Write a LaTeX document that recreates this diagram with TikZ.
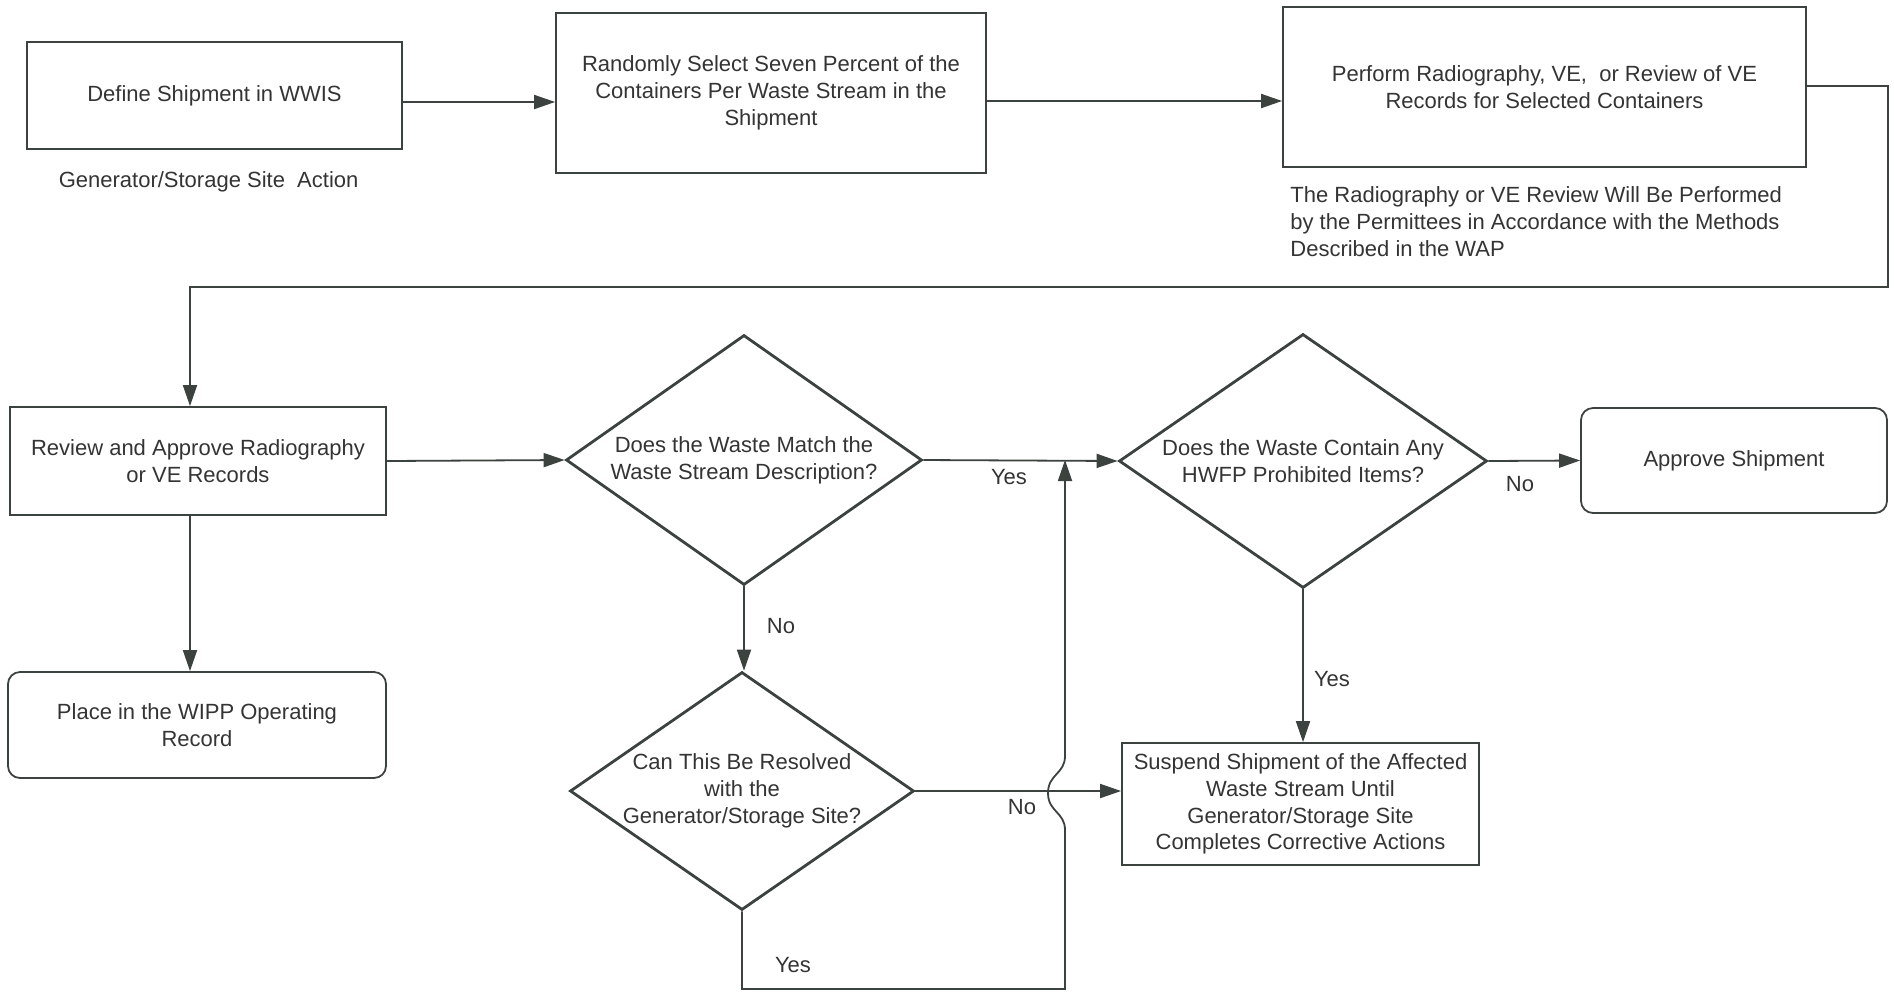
\documentclass[tikz,border=0pt]{standalone}
\usepackage{fontspec}
\setmainfont{Liberation Sans}
\usetikzlibrary{arrows.meta,shapes.geometric}
\definecolor{ln}{HTML}{3C423E}
\definecolor{tx}{HTML}{333533}
\begin{document}
\begin{tikzpicture}[x=0.5pt,y=-0.5pt,
  every node/.style={font=\fontsize{11}{13.4}\selectfont, text=tx},
  box/.style={draw=ln, line width=0.9pt, inner sep=0pt, align=center},
  rbox/.style={box, rounded corners=6pt},
  dia/.style={draw=ln, line width=1.4pt, diamond, inner sep=0pt},
  lbl/.style={inner sep=0pt},
  arr/.style={draw=ln, line width=0.9pt, -{Triangle[length=10.5pt,width=7pt]}}
]
\fill[white] (0,0) rectangle (1894,992);
\useasboundingbox (0,0) rectangle (1894,992);

% boxes
\node[box, minimum width=187.5pt, minimum height=53.5pt] (def) at (214.5,95.5) {Define Shipment in WWIS};
\node[lbl] (gen) at (208.6,182) {Generator/Storage Site\ \ Action};
\node[box, minimum width=215pt, minimum height=80pt] (sel) at (771,93) {Randomly Select Seven Percent of the\\Containers Per Waste Stream in the\\Shipment};
\node[box, minimum width=261.5pt, minimum height=80pt] (perf) at (1544.5,87) {Perform Radiography, VE,\ \ or Review of VE\\Records for Selected Containers};
\node[lbl, align=left, anchor=west] (note) at (1290,221.5) {The Radiography or VE Review Will Be Performed\\by the Permittees in Accordance with the Methods\\Described in the WAP};
\node[box, minimum width=188pt, minimum height=54pt] (rev) at (198,461) {Review and Approve Radiography\\or VE Records};
\node[rbox, minimum width=189pt, minimum height=53pt] (place) at (197,725) {Place in the WIPP Operating\\Record};

\node[dia, minimum width=178pt, minimum height=125pt] (d1) at (744,460) {};
\node[lbl, align=center] (t1) at (744,460) {Does the Waste Match the\\Waste Stream Description?};
\node[dia, minimum width=184pt, minimum height=127pt] (d3) at (1303,461) {};
\node[lbl, align=center] (t3) at (1303,461) {Does the Waste Contain Any\\HWFP Prohibited Items?};
\node[rbox, minimum width=153pt, minimum height=52.5pt] (appr) at (1734,460.5) {Approve Shipment};
\node[dia, minimum width=172pt, minimum height=119pt] (d2) at (742,791) {};
\node[lbl, align=center] (t2) at (742,791) {Can This Be Resolved\\with the\\Generator/Storage Site?};
\node[box, minimum width=178.5pt, minimum height=61pt] (susp) at (1300.5,804) {Suspend Shipment of the Affected\\Waste Stream Until\\Generator/Storage Site\\Completes Corrective Actions};

% helper coordinates
\coordinate (c1) at (1888,86);
\coordinate (c2) at (1888,287);
\coordinate (j) at (1065,460);
\coordinate (b1) at (742,989);
\coordinate (b2) at (1065,989);
\coordinate (h1) at (1065,830);
\coordinate (h2) at (1048,793);
\coordinate (h3) at (1065,756);
\coordinate (rn) at ([xshift=-4pt]rev.north);
\coordinate (rs) at ([xshift=-4pt]rev.south);

% connectors
\draw[arr] (def.east |- 0,102) -- (sel.west |- 0,102);
\draw[arr] (sel.east |- 0,101) -- (perf.west |- 0,101);
\draw[arr] (perf.east |- c1) -- (c1) -- (c2) -| (rn);
\draw[arr] (rev.east) -- (d1.west);
\draw[arr] (rs) -- (rs |- place.north);
\draw[arr] (d1.east) -- (d3.west);
\draw[arr] (d1.south) -- (d1.south |- d2.north);
\draw[arr] (d3.east) -- (appr.west);
\draw[arr] (d3.south) -- (d3.south |- susp.north);
\draw[arr] (d2.east) -- (d2.east -| susp.west);
\draw[arr] (d2.south) -- (b1) -- (b2) -- (h1) .. controls (1065,812) and (1048,812) .. (h2) .. controls (1048,774) and (1065,774) .. (h3) -- (j);

% labels
\node[lbl] (ly1) at (1009,477) {Yes};
\node[lbl] (ln1) at (781,626) {No};
\node[lbl] (ln3) at (1520,484) {No};
\node[lbl] (ly3) at (1332,679) {Yes};
\node[lbl] (ln2) at (1022,807) {No};
\node[lbl] (ly2) at (793,965) {Yes};
\end{tikzpicture}
\end{document}
